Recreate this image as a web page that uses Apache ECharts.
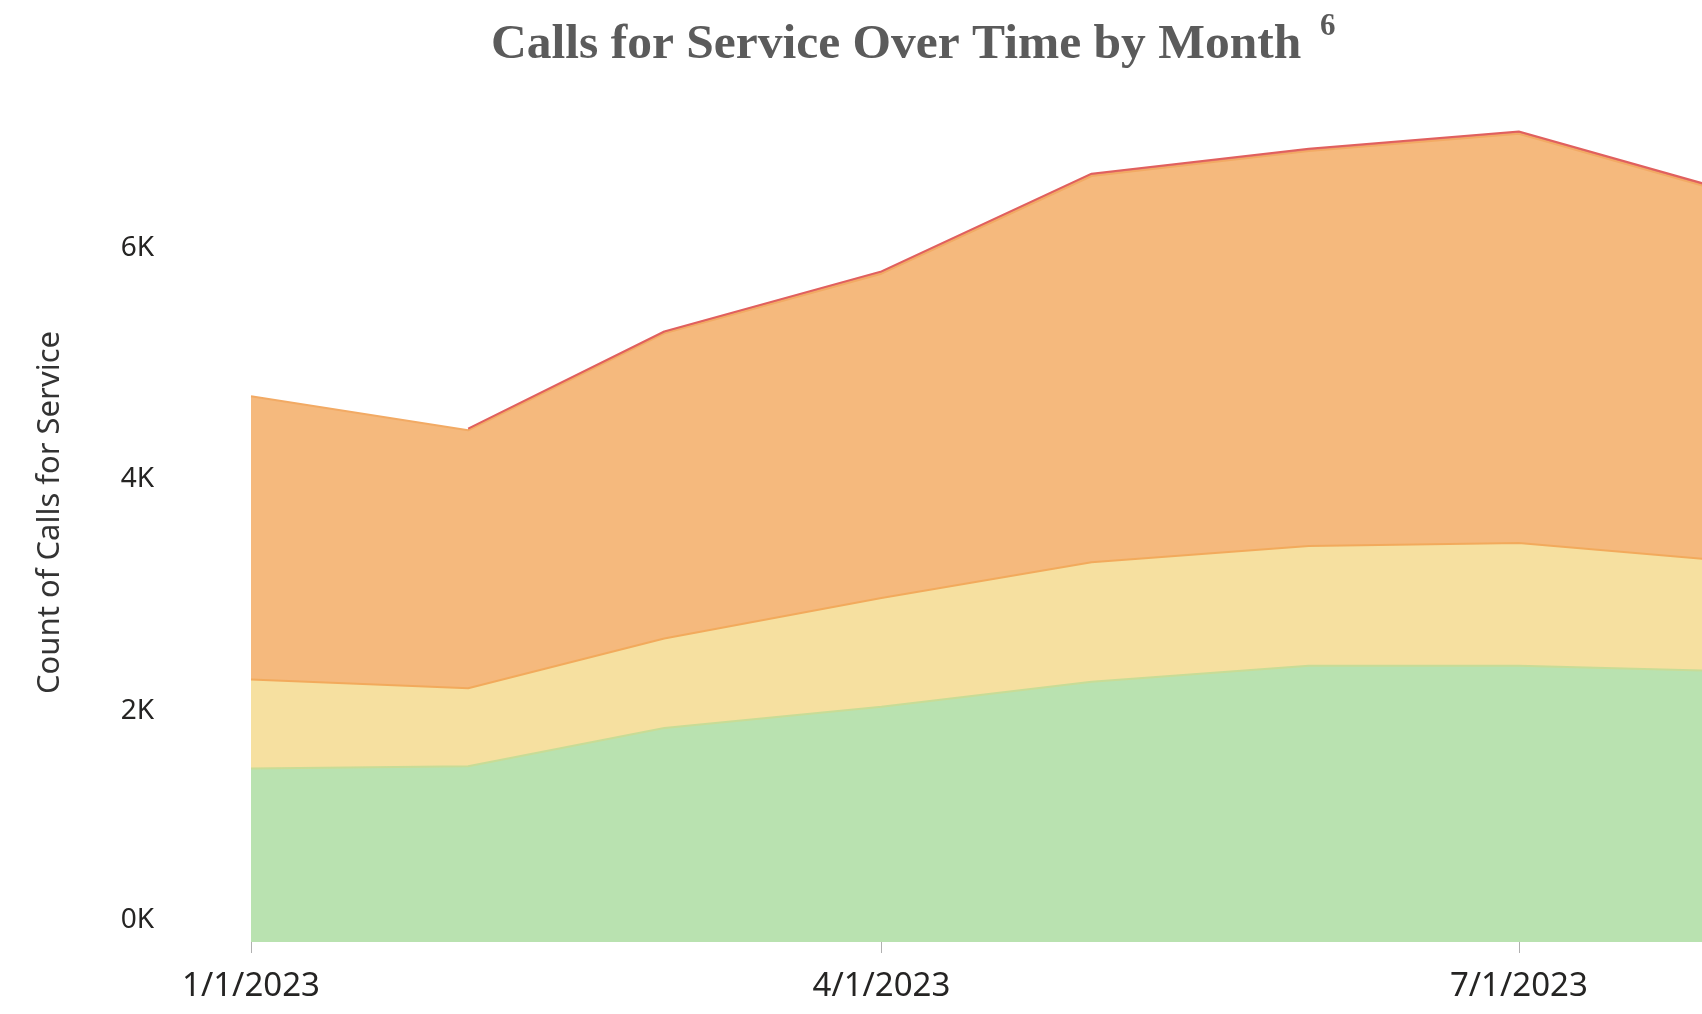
<!DOCTYPE html>
<html>
<head>
<meta charset="utf-8">
<title>Calls for Service Over Time by Month</title>
<script src="https://cdn.jsdelivr.net/npm/echarts@6/dist/echarts.min.js"></script>
<style>
  html, body { margin: 0; padding: 0; background: #fff; }
  #chart { width: 1702px; height: 1014px; }
</style>
</head>
<body>
<div id="chart"></div>
<script>
// monthly points (first of each month, 2023)
const months = ['2023-01-01', '2023-02-01', '2023-03-01', '2023-04-01',
  '2023-05-01', '2023-06-01', '2023-07-01', '2023-08-01'];
const tickDates = ['2023-01-01', '2023-04-01', '2023-07-01'];

// stacked series, bottom to top
const lowValues = [1500, 1520, 1850, 2035, 2250, 2390, 2390, 2340];
const mediumValues = [770, 675, 775, 940, 1035, 1035, 1060, 950];
const highValues = [2450, 2230, 2640, 2805, 3340, 3415, 3540, 3170];
const urgentValues = [null, 15, 15, 20, 20, 20, 20, 20];

const toTime = s => {
  const [y, m, d] = s.split('-').map(Number);
  return new Date(y, m - 1, d).getTime();
};
const pairs = vals => months.map((m, i) => [toTime(m), vals[i]]);

const chart = echarts.init(document.getElementById('chart'));

const labelFont = '"Noto Sans", "Open Sans", sans-serif';
const xMin = toTime(months[0]);
const xMax = toTime(months[months.length - 1]);

const areaSeries = (name, vals, fill, line) => ({
  name: name,
  type: 'line',
  stack: 'calls',
  data: pairs(vals),
  showSymbol: false,
  symbol: 'none',
  lineStyle: { width: 2, color: line },
  areaStyle: { color: fill, opacity: 1 },
  itemStyle: { color: fill },
  emphasis: { disabled: true }
});

chart.setOption({
  animation: false,
  title: [
    {
      text: 'Calls for Service Over Time by Month',
      left: 486,
      top: 15,
      textStyle: {
        fontFamily: '"Liberation Serif", "DejaVu Serif", serif',
        fontWeight: 'bold',
        fontSize: 49.5,
        color: '#5b5b5b'
      }
    },
    {
      text: '6',
      left: 1315,
      top: 6,
      textStyle: {
        fontFamily: '"Liberation Serif", serif',
        fontWeight: 'bold',
        fontSize: 31,
        color: '#5b5b5b'
      }
    }
  ],
  grid: {
    left: 251,
    width: 1485,
    top: 17,
    bottom: 72,
    containLabel: false,
    outerBoundsMode: 'none'
  },
  xAxis: [
    {
      // time axis carries the data; its own ticks are hidden
      type: 'time',
      min: xMin,
      max: xMax,
      axisLine: { show: false },
      axisTick: { show: false },
      axisLabel: { show: false },
      splitLine: { show: false }
    },
    {
      // quarterly ticks and labels drawn on an overlaid value axis
      type: 'value',
      min: xMin,
      max: xMax,
      position: 'bottom',
      axisLine: { show: false },
      splitLine: { show: false },
      axisTick: {
        show: true,
        length: 11,
        customValues: tickDates.map(toTime),
        lineStyle: { color: '#b0b0b0', width: 1 }
      },
      axisLabel: {
        customValues: tickDates.map(toTime),
        formatter: v => {
          const d = new Date(v);
          return (d.getMonth() + 1) + '/' + d.getDate() + '/' + d.getFullYear();
        },
        margin: 28,
        fontFamily: labelFont,
        fontSize: 33,
        color: '#252423'
      }
    }
  ],
  yAxis: {
    type: 'value',
    min: 0,
    max: 8000,
    interval: 2000,
    name: 'Count of Calls for Service',
    nameLocation: 'middle',
    nameRotate: 90,
    nameGap: 185,
    nameTextStyle: {
      fontFamily: labelFont,
      fontSize: 31,
      color: '#333',
      padding: [0, 66, 0, 0]
    },
    axisLine: { show: false },
    axisTick: { show: false },
    splitLine: { show: false },
    axisLabel: {
      showMaxLabel: false,
      margin: 97,
      formatter: v => (v === 0 ? '{z|0K}' : (v / 1000) + 'K'),
      rich: {
        z: { padding: [0, 0, 44, 0], fontFamily: labelFont, fontSize: 28, color: '#252423' }
      },
      fontFamily: labelFont,
      fontSize: 28,
      color: '#252423'
    }
  },
  series: [
    areaSeries('Low', lowValues, '#b9e2b0', '#c8dc96'),
    areaSeries('Medium', mediumValues, '#f6e0a0', '#f2aa5c'),
    areaSeries('High', highValues, '#f5b97d', '#f2aa64'),
    areaSeries('Urgent', urgentValues, '#e8826f', '#e0605e')
  ]
});

window.addEventListener('resize', () => chart.resize());
</script>
</body>
</html>
